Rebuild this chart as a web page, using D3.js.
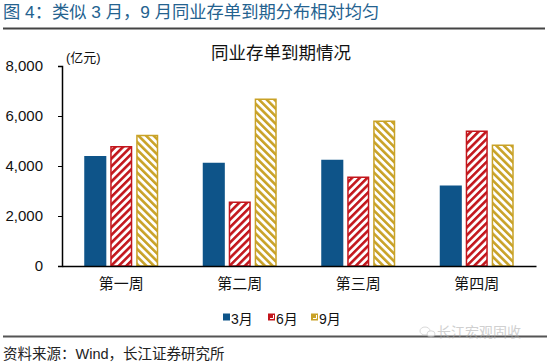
<!DOCTYPE html>
<html>
<head>
<meta charset="utf-8">
<script src="https://cdn.jsdelivr.net/npm/d3@7"></script>
<style>
  html, body { margin: 0; padding: 0; background: #fff; }
  svg { display: block; }
  text { font-family: "Liberation Sans", Arial, "Noto Sans CJK SC", sans-serif; }
</style>
</head>
<body>
<svg id="chart" width="550" height="363"></svg>
<script>
// ---- data ----
const categories = ["第一周", "第二周", "第三周", "第四周"];
const seriesNames = ["3月", "6月", "9月"];
const values3 = [4400, 4130, 4250, 3220];
const values6 = [4800, 2580, 3580, 5420];
const values9 = [5250, 6700, 5820, 4860];
const yTicks = [0, 2000, 4000, 6000, 8000];

const seriesValues = [values3, values6, values9];
const colors = ["#0E5489", "#C3161C", "#C9A227"];
const fills = ["#0E5489", "url(#hatchRed)", "url(#hatchGold)"];

const svg = d3.select("#chart");
const defs = svg.append("defs");

function hatch(id, color, angle) {
  const p = defs.append("pattern")
    .attr("id", id).attr("patternUnits", "userSpaceOnUse")
    .attr("width", 5.4).attr("height", 5.4)
    .attr("patternTransform", `rotate(${angle})`);
  p.append("rect").attr("width", 5.4).attr("height", 5.4).attr("fill", "#fff");
  p.append("rect").attr("width", 2.6).attr("height", 5.4).attr("fill", color);
}
hatch("hatchRed", colors[1], 45);
hatch("hatchGold", colors[2], -45);

// ---- header ----
svg.append("text").attr("x", 3).attr("y", 18)
  .attr("font-size", 17.3).attr("fill", "#24628F")
  .attr("font-family", "'Noto Sans CJK SC', sans-serif")
  .text("图 4：类似 3 月，9 月同业存单到期分布相对均匀");
svg.append("line").attr("x1", 3).attr("x2", 545).attr("y1", 28.5).attr("y2", 28.5)
  .attr("stroke", "#444").attr("stroke-width", 2);

// ---- scales ----
const x0 = d3.scaleBand().domain(categories).range([62, 536]).padding(0);
const groupW = 74;
const x1 = d3.scaleBand().domain(seriesNames)
  .range([(x0.bandwidth() - groupW) / 2, (x0.bandwidth() + groupW) / 2])
  .paddingInner(0.15);
const y = d3.scaleLinear().domain([0, 8000]).range([266, 66]);

// chart title
svg.append("text").attr("x", 281).attr("y", 59).attr("text-anchor", "middle")
  .attr("font-size", 17.5).attr("fill", "#111")
  .attr("font-family", "'Noto Sans CJK SC', sans-serif")
  .text("同业存单到期情况");

// unit
svg.append("text").attr("x", 66).attr("y", 62)
  .attr("font-size", 13).attr("fill", "#111")
  .attr("font-family", "'Noto Sans CJK SC', sans-serif")
  .text("(亿元)");

// ---- bars ----
const groups = svg.append("g").selectAll("g").data(categories).join("g")
  .attr("transform", d => `translate(${x0(d)},0)`);
groups.selectAll("rect")
  .data((c, ci) => seriesNames.map((s, si) => ({ s, si, v: seriesValues[si][ci] })))
  .join("rect")
  .attr("x", d => x1(d.s) + (d.si === 0 ? 0 : 0.75))
  .attr("y", d => y(d.v) + (d.si === 0 ? 0 : 0.75))
  .attr("width", d => x1.bandwidth() - (d.si === 0 ? 0 : 1.5))
  .attr("height", d => y(0) - y(d.v) - (d.si === 0 ? 0 : 0.75))
  .attr("fill", d => fills[d.si])
  .attr("stroke", d => d.si === 0 ? "none" : colors[d.si])
  .attr("stroke-width", 1.5);

// ---- axes ----
const yAxis = d3.axisLeft(y).tickValues(yTicks).tickFormat(d3.format(","))
  .tickSize(4).tickPadding(15);
const gy = svg.append("g").attr("transform", "translate(62,0)").call(yAxis);
gy.select(".domain").attr("stroke", "#000").attr("stroke-width", 1.5);
gy.selectAll(".tick line").attr("stroke", "#000");
gy.selectAll(".tick text").attr("font-size", 15).attr("fill", "#111");

const xAxis = d3.axisBottom(x0).tickSize(0).tickPadding(12);
const gx = svg.append("g").attr("transform", "translate(0,266)").call(xAxis);
gx.select(".domain").attr("stroke", "#000").attr("stroke-width", 1.5);
gx.selectAll(".tick text").attr("font-size", 15).attr("fill", "#111")
  .attr("font-family", "'Noto Sans CJK SC', sans-serif");

// ---- legend ----
const legendX = [223, 268, 311];
const lg = svg.append("g").selectAll("g").data(seriesNames).join("g")
  .attr("transform", (d, i) => `translate(${legendX[i]},313)`);
lg.append("rect").attr("width", 7).attr("height", 7).attr("y", 0.5)
  .attr("fill", (d, i) => colors[i]);
lg.filter((d, i) => i > 0).append("path")
  .attr("d", "M2,5.5 L5.5,5.5 L5.5,2")
  .attr("fill", "none").attr("stroke", "#fff").attr("stroke-width", 1);
lg.append("text").attr("x", 8).attr("y", 11)
  .attr("font-size", 14).attr("fill", "#111")
  .text(d => d);

// ---- footer ----
svg.append("line").attr("x1", 3).attr("x2", 547).attr("y1", 336.5).attr("y2", 336.5)
  .attr("stroke", "#555").attr("stroke-width", 2);

// watermark
const wm = svg.append("g").attr("opacity", 0.55);
wm.append("ellipse").attr("cx", 425).attr("cy", 331).attr("rx", 5).attr("ry", 4)
  .attr("fill", "#fff").attr("stroke", "#bbb");
wm.append("ellipse").attr("cx", 431).attr("cy", 334).attr("rx", 4).attr("ry", 3.2)
  .attr("fill", "#fff").attr("stroke", "#bbb");
wm.append("text").attr("x", 437).attr("y", 337)
  .attr("font-size", 14).attr("fill", "#aaa")
  .attr("font-family", "'Noto Sans CJK SC', sans-serif")
  .text("长江宏观固收");

svg.append("text").attr("x", 3).attr("y", 359)
  .attr("font-size", 14.5).attr("fill", "#222")
  .text("资料来源：Wind，长江证券研究所");
</script>
</body>
</html>
